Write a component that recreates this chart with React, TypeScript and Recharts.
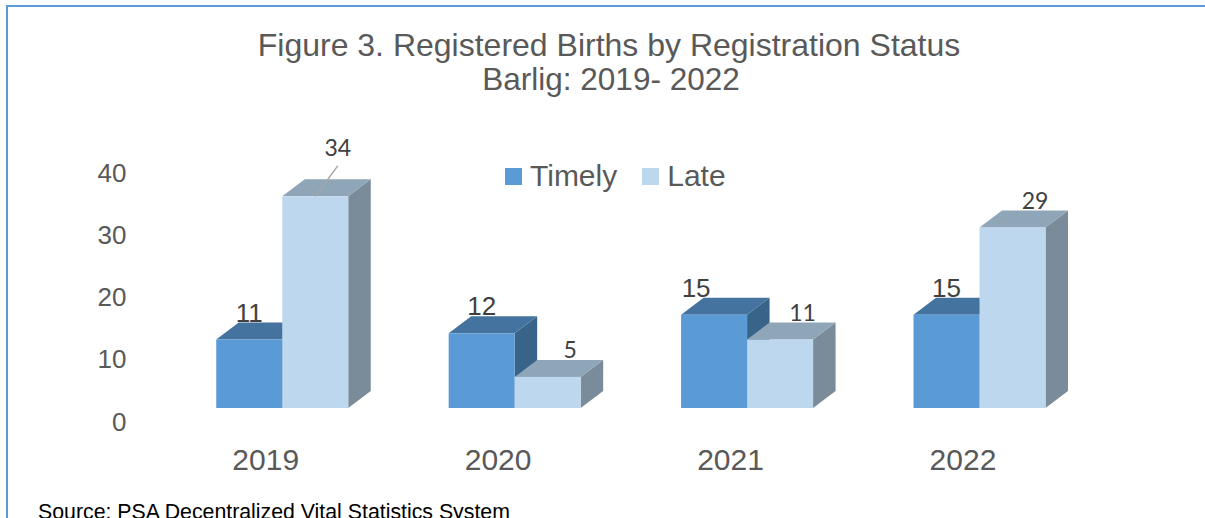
import React from 'react';
import { BarChart, Bar, XAxis, YAxis, Legend, LabelList } from 'recharts';

const years = ['2019', '2020', '2021', '2022'];
const timely = [11, 12, 15, 15];
const late = [34, 5, 11, 29];
const yTicks = [0, 10, 20, 30, 40];

const data = years.map((year, i) => ({ year, Timely: timely[i], Late: late[i] }));

const FONT = '"Liberation Sans", Arial, sans-serif';
const DX = 22.5;
const DY = 17;

const TIMELY = { front: '#5B9BD5', top: '#44739F', side: '#386489' };
const LATE = { front: '#BDD7EE', top: '#8FA5B8', side: '#7A8B9A' };

const makeShape = (c: { front: string; top: string; side: string }) => (props: any) => {
  const { x, y, width, height } = props;
  if (width == null || height == null) return null;
  const x2 = x + width;
  const yb = y + height;
  return (
    <g>
      <polygon
        points={`${x2},${y} ${x2 + DX},${y - DY} ${x2 + DX},${yb - DY} ${x2},${yb}`}
        fill={c.side}
      />
      <polygon
        points={`${x},${y} ${x + DX},${y - DY} ${x2 + DX},${y - DY} ${x2},${y}`}
        fill={c.top}
      />
      <rect x={x} y={y} width={width} height={height} fill={c.front} />
    </g>
  );
};

const timelyNudge: Record<number, number> = { 2: -18 };
const lateLift: Record<number, number> = { 0: 22 };

const TimelyLabel = (props: any) => {
  const { x, y, width, value, index } = props;
  const cx = x + width / 2 + (timelyNudge[index] || 0);
  return (
    <text x={cx} y={y - 18} textAnchor="middle" fontSize={26} fill="#404040" fontFamily={FONT}>
      {value}
    </text>
  );
};

const LateLabel = (props: any) => {
  const { x, y, width, value, index } = props;
  const lift = lateLift[index] || 0;
  const cx = x + width / 2 + DX;
  const base = y - 18.5 - lift;
  return (
    <g>
      {lift > 0 && (
        <line x1={cx} y1={base + 10} x2={x + width / 2} y2={y} stroke="#A6A6A6" strokeWidth={1.5} />
      )}
      <text x={cx} y={base} textAnchor="middle" fontSize={23} fill="#404040" fontFamily="Lato, sans-serif">
        {value}
      </text>
    </g>
  );
};

const YTick = (props: any) => {
  const { x, y, payload } = props;
  return (
    <text x={x} y={y + 13.5} dy="0.355em" textAnchor="end" fontSize={26} fill="#595959" fontFamily={FONT}>
      {payload.value}
    </text>
  );
};

const XTick = (props: any) => {
  const { x, y, payload } = props;
  return (
    <text x={x - 17} y={y + 62} textAnchor="middle" fontSize={30} fill="#595959" fontFamily={FONT}>
      {payload.value}
    </text>
  );
};

const LegendContent = () => (
  <div style={{ display: 'flex', alignItems: 'center', fontFamily: FONT, fontSize: 30, color: '#595959', whiteSpace: 'nowrap' }}>
    <span style={{ width: 17, height: 17, background: TIMELY.front, display: 'inline-block', marginRight: 8 }} />
    <span>Timely</span>
    <span style={{ width: 17, height: 17, background: LATE.front, display: 'inline-block', marginLeft: 25, marginRight: 8 }} />
    <span>Late</span>
  </div>
);

export default function App() {
  return (
    <div style={{ position: 'absolute', left: 0, top: 0, width: 1205, height: 518, overflow: 'hidden', background: '#fff' }}>
      <div style={{ position: 'absolute', left: 6, top: 5, width: 1300, height: 600, borderLeft: '2px solid #5B9BD5', borderTop: '2px solid #5B9BD5' }} />
      <BarChart
        width={1205}
        height={518}
        data={data}
        margin={{ top: 159, right: 108.8, bottom: 80, left: 126.5 }}
        barCategoryGap="21.4%"
        barGap={0}
      >
        <XAxis dataKey="year" height={30} axisLine={false} tickLine={false} tickSize={0} tickMargin={0} tick={<XTick />} interval={0} />
        <YAxis
          domain={[0, 40]}
          ticks={yTicks}
          width={40}
          axisLine={false}
          tickLine={false}
          tickSize={0}
          tickMargin={40}
          tick={<YTick />}
          interval={0}
        />
        <Legend
          layout="horizontal"
          verticalAlign="middle"
          align="center"
          content={<LegendContent />}
          wrapperStyle={{ left: 505, top: 159, width: 260, height: 36 }}
        />
        <Bar dataKey="Timely" fill={TIMELY.front} shape={makeShape(TIMELY)} isAnimationActive={false}>
          <LabelList dataKey="Timely" content={<TimelyLabel />} />
        </Bar>
        <Bar dataKey="Late" fill={LATE.front} shape={makeShape(LATE)} isAnimationActive={false}>
          <LabelList dataKey="Late" content={<LateLabel />} />
        </Bar>
      </BarChart>
      <svg width={1205} height={518} style={{ position: 'absolute', left: 0, top: 0, pointerEvents: 'none' }}>
        <text x={609} y={56} textAnchor="middle" fontSize={32} fill="#595959" fontFamily={FONT}>
          Figure 3. Registered Births by Registration Status
        </text>
        <text x={611} y={90} textAnchor="middle" fontSize={31.5} fill="#595959" fontFamily={FONT}>
          Barlig: 2019- 2022
        </text>
        <text x={38} y={519} fontSize={21.3} fill="#000" fontFamily={FONT}>
          Source: PSA Decentralized Vital Statistics System
        </text>
      </svg>
    </div>
  );
}
